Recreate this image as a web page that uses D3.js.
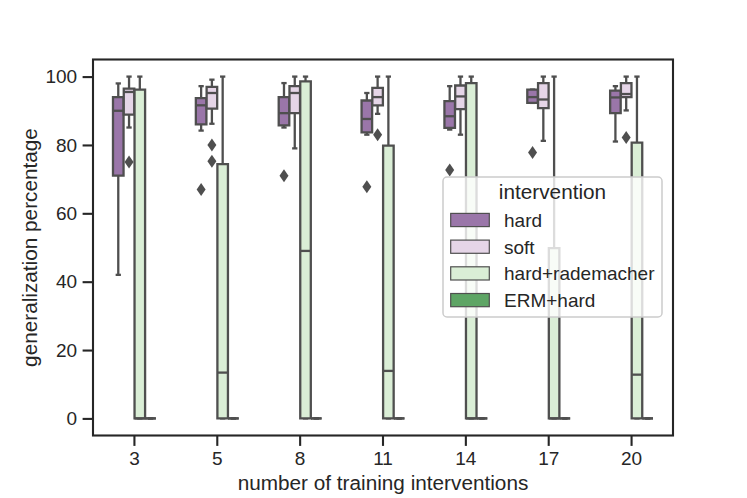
<!DOCTYPE html>
<html>
<head>
<meta charset="utf-8">
<script src="https://cdn.jsdelivr.net/npm/d3@7"></script>
<style>
body { margin: 0; background: #fff; }
svg { font-family: "Liberation Sans", Arial, sans-serif; }
</style>
</head>
<body>
<div id="chart"></div>
<script>
// categories and hues
var categories = ["3", "5", "8", "11", "14", "17", "20"];
var hues = ["hard", "soft", "hard+rademacher", "ERM+hard"];
var hueColors = ["#9a76a9", "#e5d5e7", "#daeed6", "#5ea565"];
var yTicks = [0, 20, 40, 60, 80, 100];

// box stats per category: [low whisker, q1, median, q3, high whisker]
var hardBox = [[42, 71, 90, 94, 98], [84.2, 86, 91.6, 93.7, 97.2], [85.1, 85.7, 89.3, 94, 98.1],
               [83, 83.7, 87.6, 93, 95.2], [84.5, 85, 88.4, 92.8, 97.2], [92.3, 92.3, 94, 96.2, 96.2],
               [81, 89.3, 93.9, 95.9, 97.2]];
var softBox = [[85.1, 88.9, 95.5, 96.5, 100], [86.2, 90.6, 95.2, 97, 99.1], [79, 89.3, 95.2, 97.2, 100],
               [89.1, 91.6, 94, 96.7, 100], [83, 90.5, 94.2, 97.4, 100], [81.2, 90.8, 93.3, 98.1, 100],
               [90.1, 94, 94.9, 98.1, 100]];
var rademacherBox = [[0, 0, 0, 96.2, 100], [0, 0, 13.4, 74.4, 100], [0, 0, 49, 98.6, 100],
                     [0, 0, 13.9, 79.8, 100], [0, 0, 0, 98.1, 100], [0, 0, 0, 49.8, 100],
                     [0, 0, 12.8, 80.7, 100]];
var ermBox = [[0, 0, 0, 0, 0], [0, 0, 0, 0, 0], [0, 0, 0, 0, 0], [0, 0, 0, 0, 0],
              [0, 0, 0, 0, 0], [0, 0, 0, 0, 0], [0, 0, 0, 0, 0]];

// outliers per category
var hardOut = [[], [67], [71], [67.8], [72.7], [77.8], []];
var softOut = [[75], [80, 75.2], [], [83], [], [], [82.2]];
var rademacherOut = [[], [], [], [], [], [], []];
var ermOut = [[], [], [], [], [], [], []];

var allBoxes = [hardBox, softBox, rademacherBox, ermBox];
var allOut = [hardOut, softOut, rademacherOut, ermOut];

var W = 747, H = 498;
var pLeft = 93, pRight = 673, pTop = 59.5, pBottom = 435.5;
var textColor = '#262626';
var lineColor = '#4f4f4f';

var svg = d3.select("#chart").append("svg")
    .attr("width", W)
    .attr("height", H);

var x = d3.scaleBand().domain(categories).range([pLeft, pRight]).padding(0);
var groupWidth = x.bandwidth() * 0.52;
var xh = d3.scaleBand().domain(hues).range([-groupWidth / 2, groupWidth / 2]).padding(0);
var boxW = xh.bandwidth() * 0.98;

var y = d3.scaleLinear().domain([-5, 105]).range([pBottom, pTop]);

//axes
var xAxis = svg.append("g").attr("transform", "translate(0," + pBottom + ")")
    .call(d3.axisBottom(x).tickSize(10.4).tickPadding(5.5));
var yAxis = svg.append("g").attr("transform", "translate(" + pLeft + ",0)")
    .call(d3.axisLeft(y).tickValues(yTicks).tickSize(10.4).tickPadding(5.5));

[xAxis, yAxis].forEach(function(a) {
    a.select(".domain").remove();
    a.selectAll(".tick line").attr("stroke", textColor).attr("stroke-width", 2.1);
    a.selectAll(".tick text").attr("fill", textColor).style("font-size", "19px")
        .style("font-family", '"Liberation Sans", Arial, sans-serif');
});

//boxes
categories.forEach(function(cat, ci) {
    hues.forEach(function(hue, hi) {
        var s = allBoxes[hi][ci];
        var cx = x(cat) + x.bandwidth() / 2 + xh(hue) + xh.bandwidth() / 2;
        var x0 = cx - boxW / 2, x1 = cx + boxW / 2;
        var g = svg.append("g").attr("class", "box");
        var capHalf = boxW / 4;

        // whiskers
        g.append("line").attr("x1", cx).attr("x2", cx).attr("y1", y(s[3])).attr("y2", y(s[4]));
        g.append("line").attr("x1", cx).attr("x2", cx).attr("y1", y(s[1])).attr("y2", y(s[0]));
        // caps
        g.append("line").attr("x1", cx - capHalf).attr("x2", cx + capHalf).attr("y1", y(s[4])).attr("y2", y(s[4]));
        g.append("line").attr("x1", cx - capHalf).attr("x2", cx + capHalf).attr("y1", y(s[0])).attr("y2", y(s[0]));
        // box
        g.append("path")
            .attr("d", "M" + x0 + "," + y(s[1]) + "H" + x1 + "V" + y(s[3]) + "H" + x0 + "Z")
            .attr("fill", hueColors[hi]);
        // median
        g.append("line").attr("x1", x0).attr("x2", x1).attr("y1", y(s[2])).attr("y2", y(s[2]));

        g.selectAll("line,path").attr("stroke", lineColor).attr("stroke-width", 2.3);

        // outliers
        allOut[hi][ci].forEach(function(v) {
            var py = y(v);
            g.append("path")
                .attr("d", "M" + cx + "," + (py - 6.5) + "L" + (cx + 4.5) + "," + py + "L" + cx + "," + (py + 6.5) + "L" + (cx - 4.5) + "," + py + "Z")
                .attr("fill", lineColor);
        });
    });
});

//frame
svg.append("rect")
    .attr("x", pLeft).attr("y", pTop)
    .attr("width", pRight - pLeft).attr("height", pBottom - pTop)
    .attr("fill", "none").attr("stroke", textColor).attr("stroke-width", 2.1);

//axis labels
svg.append("text").text("number of training interventions")
    .attr("x", (pLeft + pRight) / 2).attr("y", 490)
    .attr("text-anchor", "middle").attr("fill", textColor).style("font-size", "20.75px");
svg.append("text").text("generalization percentage")
    .attr("transform", "translate(37.3," + ((pTop + pBottom) / 2) + ") rotate(-90)")
    .attr("text-anchor", "middle").attr("fill", textColor).style("font-size", "20.75px");

//legend
var lg = svg.append("g").attr("transform", "translate(443,177)");
lg.append("rect").attr("width", 219).attr("height", 140).attr("rx", 4)
    .attr("fill", "#fff").attr("fill-opacity", 0.8)
    .attr("stroke", "#cccccc").attr("stroke-width", 1.5);
lg.append("text").text("intervention").attr("x", 109.5).attr("y", 22)
    .attr("text-anchor", "middle").attr("fill", textColor).style("font-size", "20.75px");
hues.forEach(function(hue, i) {
    var cy = 43 + i * 26.7;
    lg.append("rect").attr("x", 7.7).attr("y", cy - 6.6).attr("width", 38.6).attr("height", 13.2)
        .attr("fill", hueColors[i]).attr("stroke", lineColor).attr("stroke-width", 1.2);
    lg.append("text").text(hue).attr("x", 61).attr("y", cy + 6.8)
        .attr("fill", textColor).style("font-size", "19px");
});
</script>
</body>
</html>
